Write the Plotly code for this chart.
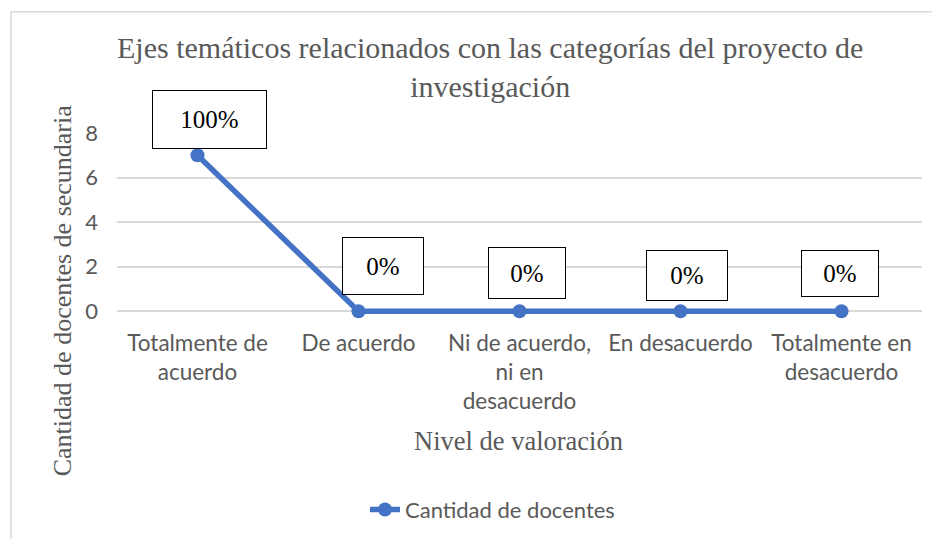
import plotly.graph_objects as go

categories = ["Totalmente de<br>acuerdo", "De acuerdo", "Ni de acuerdo,<br>ni en<br>desacuerdo",
              "En desacuerdo", "Totalmente en<br>desacuerdo"]
values = [7, 0, 0, 0, 0]
labels = ["100%", "0%", "0%", "0%", "0%"]
y_ticks = [0, 2, 4, 6, 8]
series_name = "Cantidad de docentes"

# the page body has a default 8px margin; work in window pixels and shift
OFF = 8
W, H = 940 - OFF, 539 - OFF
Y_MIN, Y_MAX = -0.3, 8
UNIT = (311 - 133) / 8  # pixels per y unit
L, R = 117 - OFF, 922 - OFF
T = 133 - OFF
B = 311 - OFF + (0 - Y_MIN) * UNIT  # extend below zero so the line is not clipped

def px(xp):
    return (xp - OFF - L) / (R - L)

def py(yp):
    return (B - (yp - OFF)) / (B - T)

# label box offsets (pixels) relative to point, and box sizes
box_style = [
    dict(dx=11.5, dy=35.5, w=115, h=59),
    dict(dx=24, dy=45, w=82, h=58),
    dict(dx=7, dy=38, w=78, h=52),
    dict(dx=6, dy=35.5, w=82, h=51),
    dict(dx=-2, dy=37.5, w=78, h=47),
]

GRAY = "#595959"
SERIF = "Liberation Serif"
SANS = "Lato"

fig = go.Figure()
fig.add_trace(go.Scatter(
    x=list(range(len(categories))), y=values, mode="lines+markers", name=series_name,
    line=dict(color="#4472C4", width=5.5),
    marker=dict(color="#4472C4", size=14),
    cliponaxis=False,
))

annotations = []
for i, (v, lab, st) in enumerate(zip(values, labels, box_style)):
    annotations.append(dict(
        x=i, y=v, xref="x", yref="y", text=lab, showarrow=False,
        xshift=st["dx"], yshift=st["dy"], width=st["w"] - 2, height=st["h"] - 2,
        bordercolor="#000000", borderwidth=1, borderpad=0, bgcolor="#FFFFFF",
        font=dict(family=SERIF, size=25, color="#000000"),
    ))

# title
annotations.append(dict(
    x=px(489.5), y=py(67), xref="paper", yref="paper", showarrow=False,
    text="Ejes temáticos relacionados con las categorías del proyecto de<br>investigación",
    font=dict(family=SERIF, size=30, color=GRAY), xanchor="center", yanchor="middle",
))
# x axis title
annotations.append(dict(
    x=px(518.5), y=py(440), xref="paper", yref="paper", showarrow=False,
    text="Nivel de valoración", font=dict(family=SERIF, size=26.5, color=GRAY),
    xanchor="center", yanchor="middle",
))
# y axis title
annotations.append(dict(
    x=px(62), y=py(290), xref="paper", yref="paper", showarrow=False, textangle=-90,
    text="Cantidad de docentes de secundaria", font=dict(family=SERIF, size=26, color=GRAY),
    xanchor="center", yanchor="middle",
))

shapes = [
    dict(type="line", xref="paper", yref="paper", x0=px(11), x1=px(950), y0=py(12), y1=py(12),
         line=dict(color="#D9D9D9", width=1.5)),
    dict(type="line", xref="paper", yref="paper", x0=px(11), x1=px(11), y0=py(12), y1=py(550),
         line=dict(color="#D9D9D9", width=1.5)),
]

fig.update_layout(
    width=W, height=H,
    margin=dict(l=L, r=W - R, t=T, b=round(H - B), autoexpand=False),
    paper_bgcolor="white", plot_bgcolor="white",
    showlegend=True,
    legend=dict(orientation="h", x=px(365), y=py(509), xanchor="left", yanchor="middle",
                font=dict(family=SANS, size=22, color=GRAY), bgcolor="rgba(0,0,0,0)"),
    xaxis=dict(
        range=[-0.5, len(categories) - 0.5],
        tickmode="array", tickvals=list(range(len(categories))), ticktext=categories,
        showgrid=False, zeroline=False, showline=False, ticks="",
        tickfont=dict(family=SANS, size=22.5, color=GRAY),
        ticklabelstandoff=int(round(16 - (0 - Y_MIN) * UNIT)),
    ),
    yaxis=dict(
        range=[Y_MIN, Y_MAX], tickmode="array", tickvals=y_ticks,
        showgrid=True, gridcolor="#D9D9D9", gridwidth=1.5, zeroline=False, showline=False,
        tickfont=dict(family=SANS, size=22, color=GRAY), ticklabelstandoff=18, ticks="",
    ),
    annotations=annotations, shapes=shapes,
)

fig.write_html("out.html")
